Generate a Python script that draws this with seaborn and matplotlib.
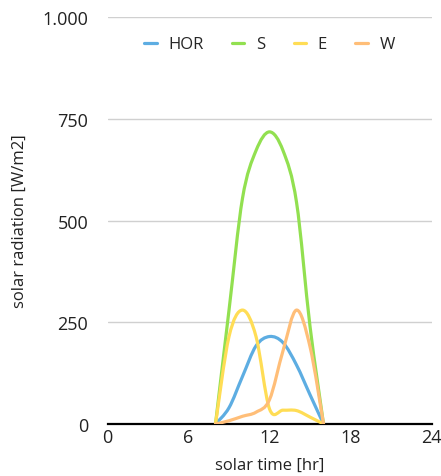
import numpy as np
import pandas as pd
import matplotlib
matplotlib.use('Agg')
import matplotlib.pyplot as plt
import seaborn as sns
from matplotlib.path import Path
from matplotlib.patches import PathPatch
from matplotlib.lines import Line2D

# hourly solar radiation per orientation [W/m2]
hours = [8, 9, 10, 11, 12, 13, 14, 15, 16]
hor = [0, 40, 117, 192, 215, 200, 145, 72, 0]
south = [0, 280, 555, 672, 718, 672, 545, 240, 0]
east = [0, 215, 280, 215, 37, 34, 33, 17, 0]
west = [0, 8, 19, 29, 60, 180, 280, 190, 0]

series_names = ['HOR', 'S', 'E', 'W']
colors = ['#5DADE2', '#92E050', '#FFDD55', '#FFBE78']
x_ticks = [0, 6, 12, 18, 24]
y_ticks = [0, 250, 500, 750, 1000]
y_tick_labels = ['0', '250', '500', '750', '1.000']

df = pd.DataFrame({'hour': hours, 'HOR': hor, 'S': south, 'E': east, 'W': west})
long_df = df.melt(id_vars='hour', var_name='series', value_name='radiation')


# smooth curve through the points (like excel's smoothed line)
def smooth_path(x, y):
    pts = np.column_stack([x, y]).astype(float)
    n = len(pts)
    verts = [pts[0]]
    codes = [Path.MOVETO]
    for i in range(n - 1):
        p0 = pts[max(i - 1, 0)]
        p1 = pts[i]
        p2 = pts[i + 1]
        p3 = pts[min(i + 2, n - 1)]
        verts += [p1 + (p2 - p0) / 6, p2 - (p3 - p1) / 6, p2]
        codes += [Path.CURVE4] * 3
    return Path(verts, codes)


sns.set_style('white')
plt.rcParams['font.family'] = ['Open Sans', 'DejaVu Sans']

fig = plt.figure(figsize=(4.41, 4.77), dpi=100)
ax = fig.add_axes([0.2438, 0.109, 0.7347, 0.853])

sns.lineplot(data=long_df, x='hour', y='radiation', hue='series',
             hue_order=series_names, palette=colors, legend=False, ax=ax)

for line in ax.lines:
    xy = line.get_xydata()
    patch = PathPatch(smooth_path(xy[:, 0], xy[:, 1]), facecolor='none',
                      edgecolor=line.get_color(), lw=2.3, capstyle='round',
                      joinstyle='round', zorder=3)
    ax.add_patch(patch)
    line.set_visible(False)

ax.set_xlim(0, 24)
ax.set_ylim(0, 1000)
ax.set_xticks(x_ticks)
ax.set_yticks(y_ticks)
ax.set_yticklabels(y_tick_labels)
ax.yaxis.grid(True, color='#D0D0D0', lw=1)
ax.set_axisbelow(True)

for s in ['left', 'right', 'top']:
    ax.spines[s].set_visible(False)
ax.spines['bottom'].set_color('black')
ax.spines['bottom'].set_linewidth(1.6)
ax.spines['bottom'].set_zorder(2)

ax.tick_params(axis='y', length=0, pad=14, labelsize=13, colors='#222222')
ax.tick_params(axis='x', length=0, pad=3, labelsize=13, colors='#222222')

ax.set_xlabel('solar time [hr]', fontsize=12, color='#222222')
ax.set_ylabel('solar radiation [W/m2]', fontsize=12, color='#222222')
ax.xaxis.set_label_coords(0.5, -0.08)
ax.yaxis.set_label_coords(-0.245, 0.5)

handles = [Line2D([], [], color=c, lw=2.3) for c in colors]
ax.legend(handles, series_names, loc='center', bbox_to_anchor=(0.5, 0.933),
          ncol=4, frameon=False, fontsize=12, handlelength=0.75,
          handletextpad=0.7, columnspacing=1.7)

plt.savefig('out.png', dpi=100)
